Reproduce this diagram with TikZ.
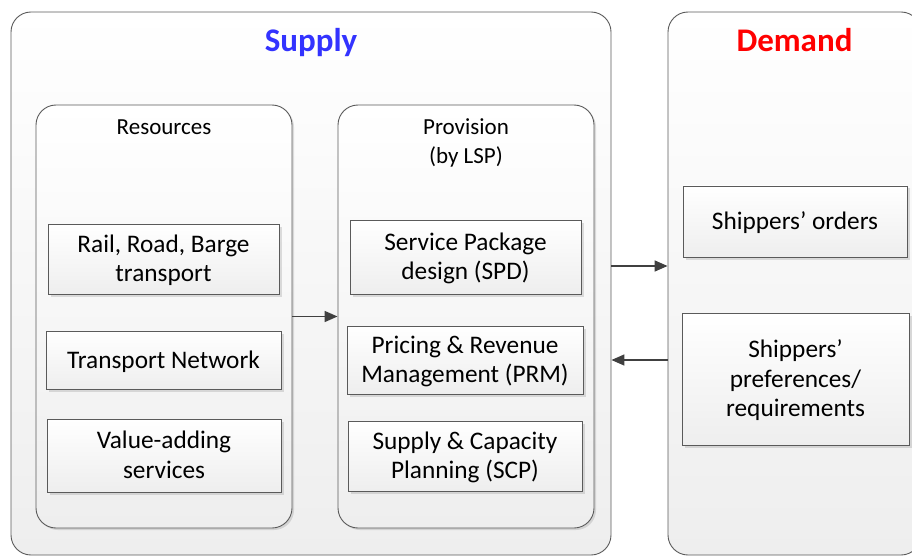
\documentclass[tikz,border=0pt]{standalone}
\usepackage{fontspec}
\setmainfont{Carlito}
\usetikzlibrary{arrows.meta,shadows,calc}
\definecolor{edge}{HTML}{5A5A5A}
\definecolor{arrowc}{HTML}{404040}
\definecolor{boxbot}{HTML}{EEEEEE}
\definecolor{supplyblue}{HTML}{3333FF}
\definecolor{demandred}{HTML}{FF0000}
\newcommand\tp{\rule{0pt}{23pt}}
\newcommand\bt{\rule[-7pt]{0pt}{7pt}}
\tikzset{
  panel/.style={draw=edge, line width=0.9pt, rounded corners=20pt,
    top color=white, bottom color=boxbot, anchor=center},
  group/.style={draw=edge, line width=0.9pt, rounded corners=20pt,
    top color=white, bottom color=boxbot,
    drop shadow={shadow xshift=2pt, shadow yshift=-2pt, opacity=0.25, fill=black!50}},
  item/.style={draw=edge, line width=0.9pt, top color=white, bottom color=boxbot,
    align=center, font=\fontsize{25.3}{29.8}\selectfont, inner sep=0pt,
    drop shadow={shadow xshift=2.5pt, shadow yshift=-2.5pt, opacity=0.25, fill=black!50}},
  head/.style={align=center, font=\fontsize{23}{29}\selectfont, anchor=north, inner sep=0pt},
  title/.style={font=\fontsize{33}{38}\selectfont\bfseries, anchor=base},
  arr/.style={draw=arrowc, line width=1.6pt, -{Triangle[length=13pt,width=11pt]}}
}
\begin{document}
\begin{tikzpicture}[x=1pt,y=-1pt]
\useasboundingbox (0,0) rectangle (912,556);
% outer panels
\node[panel, minimum width=600pt, minimum height=543pt] (supply) at (311,283.5) {};
\node[panel, minimum width=253pt, minimum height=543pt] (demand) at (794.5,283.5) {};
\node[title, text=supplyblue] (supplyt) at (311,51.5) {Supply};
\node[title, text=demandred] (demandt) at (794.5,51.5) {Demand};
% groups
\node[group, minimum width=256pt, minimum height=423pt] (res) at (164,316.5) {};
\node[group, minimum width=256pt, minimum height=423pt] (prov) at (466,316.5) {};
\node[head] (rest) at (164,111) {\tp Resources};
\node[head] (provt) at (466,111) {\tp Provision\\(by LSP)};
% resource items
\node[item, minimum width=231pt, minimum height=70pt] (rail) at (163.5,259) {\tp Rail, Road, Barge\\transport\bt};
\node[item, minimum width=235pt, minimum height=58pt] (net) at (163.5,360) {\tp Transport Network\bt};
\node[item, minimum width=234pt, minimum height=73pt] (vas) at (164,455.5) {\tp Value-adding\\services\bt};
% provision items
\node[item, minimum width=231pt, minimum height=74pt] (spd) at (465.5,257) {\tp Service Package\\design (SPD)\bt};
\node[item, minimum width=236pt, minimum height=68pt] (prm) at (465,360) {\tp Pricing \& Revenue\\Management (PRM)\bt};
\node[item, minimum width=234pt, minimum height=70pt] (scp) at (465,456) {\tp Supply \& Capacity\\Planning (SCP)\bt};
% demand items
\node[item, minimum width=224pt, minimum height=71pt] (orders) at (795,221.5) {\tp Shippers’ orders\bt};
\node[item, minimum width=227pt, minimum height=132pt] (prefs) at (795.5,379) {\tp Shippers’\\preferences/\\requirements\bt};
% arrows
\coordinate (r1) at (0,266);
\draw[arr] (res.east) -- (prov.west);
\draw[arr] (supply.east |- r1) -- (demand.west |- r1);
\draw[arr] (demand.west |- prm) -- (supply.east |- prm);
\end{tikzpicture}
\end{document}
